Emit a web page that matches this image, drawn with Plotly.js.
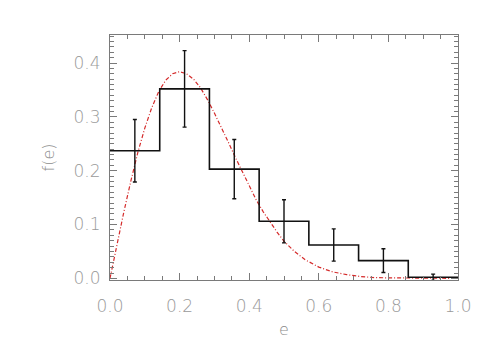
<!DOCTYPE html>
<html>
<head>
<meta charset="utf-8">
<script src="https://cdn.plot.ly/plotly-3.0.1.min.js"></script>
<style>
  body { margin: 0; background: #fff; }
  #chart { width: 491px; height: 350px; }
</style>
</head>
<body>
<div id="chart"></div>
<script>
// histogram: 7 bins over 0..1
const binEdges = [0, 0.1429, 0.2857, 0.4286, 0.5714, 0.7143, 0.8571, 1.0];
const binHeights = [0.237, 0.352, 0.203, 0.106, 0.062, 0.033, 0.002];
const binCenters = [0.0714, 0.2143, 0.3571, 0.5, 0.6429, 0.7857, 0.9286];
const binErrors = [0.058, 0.071, 0.055, 0.040, 0.030, 0.022, 0.006];

// red dash-dot model curve
const curveE = [0, 0.02, 0.04, 0.06, 0.08, 0.10, 0.12, 0.14, 0.16, 0.18, 0.20, 0.22, 0.24,
  0.26, 0.28, 0.30, 0.32, 0.34, 0.36, 0.38, 0.40, 0.42, 0.44, 0.46, 0.48, 0.50, 0.53,
  0.56, 0.60, 0.64, 0.68, 0.72, 0.76, 0.80, 0.90, 1.00];
const curveF = [0, 0.063, 0.124, 0.181, 0.234, 0.279, 0.317, 0.347, 0.368, 0.380, 0.384,
  0.380, 0.370, 0.354, 0.332, 0.307, 0.281, 0.253, 0.225, 0.198, 0.171, 0.146, 0.124,
  0.104, 0.086, 0.069, 0.050, 0.035, 0.021, 0.012, 0.007, 0.0035, 0.0015, 0.001, 0, 0];

const stepY = binHeights.concat([binHeights[binHeights.length - 1]]);

const traces = [
  {
    x: curveE, y: curveF, type: 'scatter', mode: 'lines',
    line: {color: '#d42a2a', width: 1.2, dash: '4px,2px,1px,2px'},
    hoverinfo: 'skip'
  },
  {
    x: binEdges, y: stepY, type: 'scatter', mode: 'lines',
    line: {color: '#111', width: 1.6, shape: 'hv'},
    hoverinfo: 'skip'
  },
  {
    x: binCenters, y: binHeights, type: 'scatter', mode: 'markers',
    marker: {size: 1, opacity: 0},
    error_y: {type: 'data', array: binErrors, visible: true, color: '#111', thickness: 1.4, width: 2},
    hoverinfo: 'skip'
  }
];

const thinFont = 'DejaVu Sans, sans-serif';
const axisFont = {family: thinFont, size: 17, weight: 200, color: '#9a9a9a'};
const titleFont = {family: thinFont, size: 16, weight: 200, color: '#8a8a8a'};

const layout = {
  width: 491, height: 350,
  margin: {l: 110, r: 33, t: 35, b: 70},
  paper_bgcolor: '#fff', plot_bgcolor: '#fff',
  showlegend: false,
  xaxis: {
    range: [0, 1], dtick: 0.2, tickformat: '.1f',
    showgrid: false, zeroline: false,
    showline: true, linecolor: '#7a7a7a', linewidth: 1, mirror: 'allticks',
    ticks: 'inside', ticklen: 7, tickcolor: '#7a7a7a',
    minor: {dtick: 0.05, ticks: 'inside', ticklen: 4, tickcolor: '#7a7a7a', showgrid: false},
    tickfont: axisFont, ticklabelstandoff: 11,
    title: {text: 'e', font: titleFont, standoff: 8}
  },
  yaxis: {
    range: [-0.003, 0.452], dtick: 0.1, tickformat: '.1f',
    showgrid: false, zeroline: false,
    showline: true, linecolor: '#7a7a7a', linewidth: 1, mirror: 'allticks',
    ticks: 'inside', ticklen: 7, tickcolor: '#7a7a7a',
    minor: {dtick: 0.01, ticks: 'inside', ticklen: 4, tickcolor: '#7a7a7a', showgrid: false},
    tickfont: axisFont, ticklabelstandoff: 5,
    title: {text: 'f(e)', font: titleFont, standoff: 14}
  }
};

Plotly.newPlot('chart', traces, layout, {displayModeBar: false, staticPlot: true});
</script>
</body>
</html>
